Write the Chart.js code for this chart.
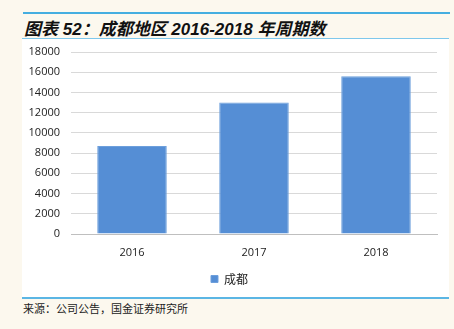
<!DOCTYPE html>
<html>
<head>
<meta charset="utf-8">
<script src="https://cdn.jsdelivr.net/npm/chart.js@4"></script>
<style>
    html, body { margin: 0; padding: 0; }
    body { width: 454px; height: 329px; background: #fcf8ee; position: relative; overflow: hidden; }
    #topLine { position: absolute; left: 23px; top: 12px; width: 427px; height: 2px; background: #45aee0; }
    #title { position: absolute; left: 24px; top: 15px; font-family: "Liberation Sans", "Noto Sans CJK SC", sans-serif;
        font-size: 17px; font-weight: bold; font-style: italic; color: #111; white-space: nowrap; }
    #panel { position: absolute; left: 22px; top: 38px; width: 427px; height: 258px; background: #fff;
        border-top: 1px solid #7ec8ec; border-bottom: 2px solid #5bb6e4; }
    #source { position: absolute; left: 23px; top: 300px; font-family: "Noto Sans CJK SC", sans-serif;
        font-size: 11px; color: #222; white-space: nowrap; }
</style>
</head>
<body>
<div id="topLine"></div>
<div id="title">图表 52：成都地区 2016-2018 年周期数</div>
<div id="panel"><canvas id="periodChart" width="427" height="258"></canvas></div>
<div id="source">来源：公司公告，国金证券研究所</div>
<script>
const years = ["2016", "2017", "2018"];
const seriesName = "成都";
const periodCounts = [8700, 13000, 15600];
const yTicks = [0, 2000, 4000, 6000, 8000, 10000, 12000, 14000, 16000, 18000];

const tickFont = { family: "'Open Sans', 'Noto Sans', sans-serif", size: 11 };

// 柱状图
const ctx = document.getElementById("periodChart");
const myChart = new Chart(ctx, {
    type: "bar",
    data: {
        labels: years,
        datasets: [{
            label: seriesName,
            data: periodCounts,
            backgroundColor: "#558ed5",
            borderColor: "#6d9fdc",
            borderWidth: 1,
            categoryPercentage: 1,
            barPercentage: 0.57
        }]
    },
    options: {
        responsive: false,
        animation: false,
        layout: { padding: { top: 13, right: 12, bottom: 2, left: 0 } },
        plugins: {
            tooltip: { enabled: false },
            legend: {
                position: "bottom",
                labels: {
                    boxWidth: 7,
                    boxHeight: 7,
                    padding: 6,
                    color: "#222",
                    font: { family: "'Noto Sans CJK SC', sans-serif", size: 12 }
                }
            }
        },
        scales: {
            x: {
                grid: { display: false, drawTicks: false },
                border: { color: "#bfbfbf", width: 1 },
                ticks: { color: "#222", font: tickFont, padding: 12 },
                afterFit: scale => { scale.height = 33; }
            },
            y: {
                min: 0,
                max: 18000,
                afterBuildTicks: scale => { scale.ticks = yTicks.map(v => ({ value: v })); },
                grid: { color: "#d9d9d9", drawTicks: false },
                border: { display: false },
                ticks: { color: "#222", font: tickFont, padding: 11, callback: v => String(v) },
                // 轴宽固定，去掉自动留白
                afterFit: scale => {
                    scale.width = 49;
                    scale.paddingTop = 0;
                    scale.paddingBottom = 0;
                }
            }
        }
    }
});
</script>
</body>
</html>
